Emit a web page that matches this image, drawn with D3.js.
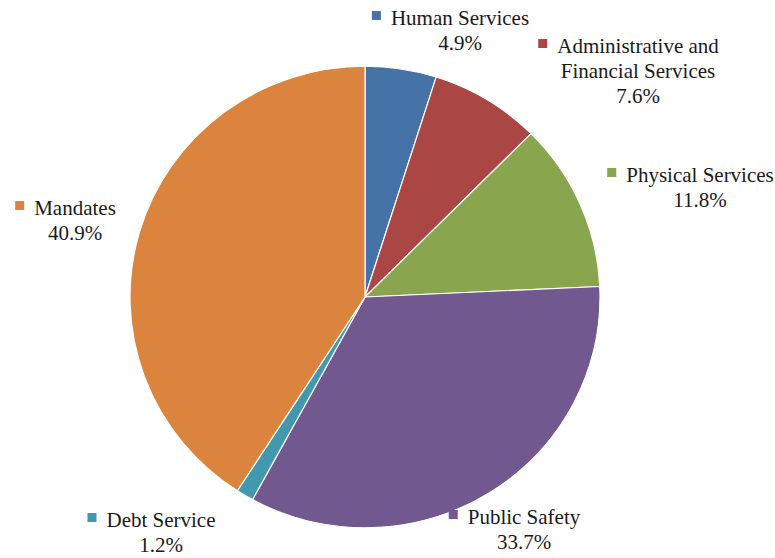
<!DOCTYPE html>
<html>
<head>
<meta charset="utf-8">
<script src="https://cdn.jsdelivr.net/npm/d3@7/dist/d3.min.js"></script>
<style>
  body { margin: 0; background: #fff; }
</style>
</head>
<body>
<svg id="chart" width="775" height="558"></svg>
<script>
// data
const categories = ["Human Services", "Administrative and Financial Services", "Physical Services", "Public Safety", "Debt Service", "Mandates"];
const values = [4.9, 7.6, 11.8, 33.7, 1.2, 40.9];
const labelLines = [["Human Services"], ["Administrative and", "Financial Services"], ["Physical Services"], ["Public Safety"], ["Debt Service"], ["Mandates"]];
const colors = ["#4572a7", "#aa4643", "#89a54e", "#71588f", "#4198af", "#db843d"];

// label layout: text-center x, first baseline y
const labelPos = [[460, 25], [638, 53], [700, 182], [524, 524], [161, 527], [75, 215]];

const cx = 365, cy = 297, radius = 235;
const lineH = 25;
const serif = '"Liberation Serif", "DejaVu Serif", "Noto Serif", serif';

const svg = d3.select('#chart');

const pie = d3.pie().sort(null).value(d => d);
const arc = d3.arc().innerRadius(0).outerRadius(radius);

const g = svg.append('g')
  .attr('transform', `translate(${cx},${cy}) scale(1,0.982)`);

g.selectAll('path')
  .data(pie(values))
  .enter()
  .append('path')
  .attr('d', arc)
  .attr('fill', (d, i) => colors[i])
  .attr('stroke', '#fff')
  .attr('stroke-width', 1.2)
  .attr('stroke-linejoin', 'round');

// legend-style labels
const firstLines = [];
categories.forEach((name, i) => {
  const [x, y] = labelPos[i];
  const lines = labelLines[i].concat([d3.format('.1f')(values[i]) + '%']);

  const texts = svg.selectAll(null)
    .data(lines)
    .enter()
    .append('text')
    .attr('x', x)
    .attr('y', (d, j) => y + j * lineH)
    .attr('text-anchor', 'middle')
    .attr('font-family', serif)
    .attr('font-size', 21)
    .attr('fill', '#1a1a1a')
    .style('font-family', serif)
    .text(d => d);
  firstLines.push(texts.node());
});

// legend squares, placed after the font is ready
function placeSquares() {
  svg.selectAll('rect.key').remove();
  firstLines.forEach((node, i) => {
    const [x, y] = labelPos[i];
    const w = node.getComputedTextLength();
    svg.append('rect')
      .attr('class', 'key')
      .attr('x', x - w / 2 - 19)
      .attr('y', y - 14)
      .attr('width', 9)
      .attr('height', 9)
      .attr('fill', colors[i]);
  });
}
placeSquares();
if (document.fonts && document.fonts.ready) document.fonts.ready.then(placeSquares);
</script>
</body>
</html>
